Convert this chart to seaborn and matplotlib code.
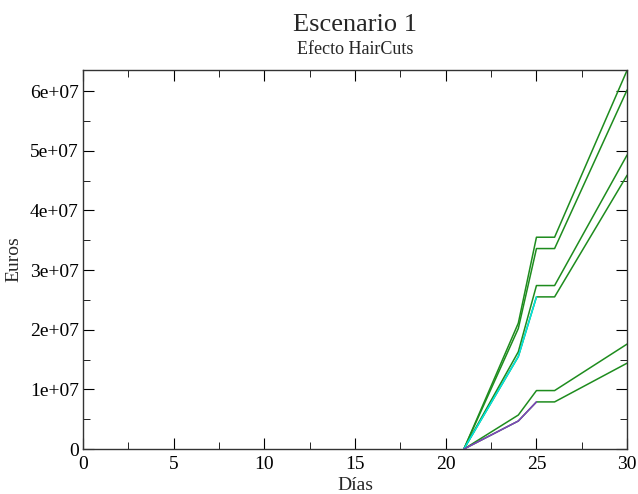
import pandas as pd
import numpy as np
import seaborn as sns
import matplotlib.pyplot as plt
from matplotlib.ticker import MultipleLocator, FuncFormatter

# days and series values (euros)
dias = [21, 24, 25, 26, 30]
dias_corto = [21, 24, 25]

verde_1 = [0, 2.11e7, 3.55e7, 3.55e7, 6.35e7]
verde_2 = [0, 2.02e7, 3.36e7, 3.36e7, 6.02e7]
verde_3 = [0, 1.63e7, 2.74e7, 2.74e7, 4.93e7]
verde_4 = [0, 1.55e7, 2.55e7, 2.55e7, 4.59e7]
verde_5 = [0, 0.57e7, 0.98e7, 0.98e7, 1.76e7]
verde_6 = [0, 0.47e7, 0.79e7, 0.79e7, 1.44e7]
cian = [0, 1.55e7, 2.55e7]
morado = [0, 0.47e7, 0.79e7]

sns.set_style("ticks")
plt.rcParams['font.family'] = ['Liberation Serif', 'DejaVu Serif']

fig = plt.figure(figsize=(6.38, 4.94), dpi=100)
ax = fig.add_axes([0.130, 0.091, 0.853, 0.767])

verde = "#1e8c1e"
for serie in [verde_1, verde_2, verde_3, verde_4, verde_5, verde_6]:
    sns.lineplot(x=dias, y=serie, ax=ax, color=verde, linewidth=1.1)
sns.lineplot(x=dias_corto, y=cian, ax=ax, color="#00e5e5", linewidth=1.1)
sns.lineplot(x=dias_corto, y=morado, ax=ax, color="#8040c0", linewidth=1.1)

ax.set_xlim(0, 30)
ax.set_ylim(0, max(verde_1))
ax.xaxis.set_major_locator(MultipleLocator(5))
ax.xaxis.set_minor_locator(MultipleLocator(2.5))
ax.yaxis.set_major_locator(MultipleLocator(1e7))
ax.yaxis.set_minor_locator(MultipleLocator(5e6))
ax.yaxis.set_major_formatter(FuncFormatter(lambda v, p: "0" if v == 0 else "%de+07" % round(v / 1e7)))
ax.tick_params(which="both", direction="in", top=True, right=True, labelsize=14, colors="black")
ax.tick_params(axis="y", pad=3)
ax.tick_params(axis="x", pad=5)
ax.tick_params(which="major", length=8)
ax.tick_params(which="minor", length=5)
for s in ax.spines.values():
    s.set_linewidth(1.0)
    s.set_color("#333333")

ax.set_xlabel("Días", fontsize=14, labelpad=3)
ax.set_ylabel("Euros", fontsize=14, labelpad=5)
fig.text(0.556, 0.950, "Escenario 1", ha="center", va="center", fontsize=19)
fig.text(0.556, 0.899, "Efecto HairCuts", ha="center", va="center", fontsize=13)

fig.savefig("out.png", dpi=100)
